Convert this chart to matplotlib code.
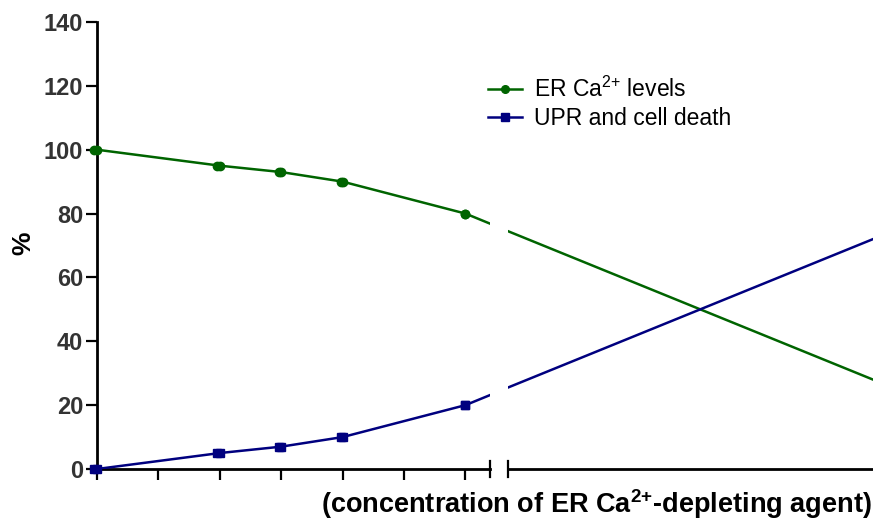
import matplotlib
matplotlib.use("Agg")
import matplotlib.pyplot as plt

plt.rcParams['font.family'] = ['Liberation Sans', 'DejaVu Sans']
plt.rcParams['mathtext.fontset'] = 'custom'
plt.rcParams['mathtext.rm'] = 'Liberation Sans'
plt.rcParams['mathtext.bf'] = 'Liberation Sans:bold'
plt.rcParams['mathtext.it'] = 'Liberation Sans:italic'

# agent concentration (arbitrary units); the last point lies beyond the axis break
conc = [0, 2, 3, 4, 6, 12.6]
er_ca = [100, 95, 93, 90, 80, 28]
upr_death = [0, 5, 7, 10, 20, 72]
n_marked = 5

yticks = [0, 20, 40, 60, 80, 100, 120, 140]
left_xticks = [0, 1, 2, 3, 4, 5, 6]

green = '#006400'
navy = '#00007f'

W, H = 873, 522
fig = plt.figure(figsize=(W / 100, H / 100), dpi=100)
bottom = (H - 469) / H
height = (469 - 22) / H
ax1 = fig.add_axes([97 / W, bottom, (490 - 97) / W, height])
ax2 = fig.add_axes([508 / W, bottom, (W - 508) / W, height], sharey=ax1)

for ax in (ax1, ax2):
    ax.plot(conc, er_ca, color=green, lw=1.8, zorder=3)
    ax.plot(conc[:n_marked], er_ca[:n_marked], 'o', color=green, ms=6, zorder=4, clip_on=False)
    ax.plot(conc, upr_death, color=navy, lw=1.8, zorder=3)
    ax.plot(conc[:n_marked], upr_death[:n_marked], 's', color=navy, ms=5.6, zorder=4, clip_on=False)
    for s in ('top', 'right'):
        ax.spines[s].set_visible(False)
    ax.spines['bottom'].set_linewidth(2)
    ax.spines['left'].set_linewidth(2)

ax1.set_xlim(0, 6.4)
ax2.set_xlim(6.7, 12.6)
ax1.set_ylim(0, 140)
ax1.set_yticks(yticks)
ax1.set_xticks(left_xticks)
ax1.tick_params(axis='x', length=8, width=1.6, labelbottom=False, direction='out')
ax1.tick_params(axis='y', length=8, width=1.6, labelsize=17, labelcolor='#333333', pad=2)
for lbl in ax1.get_yticklabels():
    lbl.set_fontweight('bold')

ax2.spines['left'].set_visible(False)
ax2.set_xticks([])
ax2.tick_params(axis='y', left=False, labelleft=False)

# break marks across the x axis
for ax, xb in ((ax1, 1.0), (ax2, 0.0)):
    ax.plot([xb, xb], [-0.018, 0.018], transform=ax.transAxes, color='black',
            lw=1.6, clip_on=False, zorder=5)

fig.text(23 / W, (H - 243) / H, '%', rotation=90, ha='center', va='center',
         fontsize=19, fontweight='bold')
fig.text(872 / W, (H - 504) / H,
         r'(concentration of ER Ca$^{\mathbf{2{+}}}$-depleting agent)',
         ha='right', va='center', fontsize=19.5, fontweight='bold')

h1, = ax2.plot([], [], '-o', color=green, ms=5.5, lw=1.8)
h2, = ax2.plot([], [], '-s', color=navy, ms=5.5, lw=1.8)
fig.legend([h1, h2], [r'ER Ca$^{2{+}}$ levels', 'UPR and cell death'],
           loc='upper left', bbox_to_anchor=(472 / W, 1 - 61 / H), frameon=False,
           fontsize=16.5, handlelength=1.5, handletextpad=0.5, labelspacing=0.2,
           borderpad=0.2)

fig.savefig('out.png', dpi=100)
